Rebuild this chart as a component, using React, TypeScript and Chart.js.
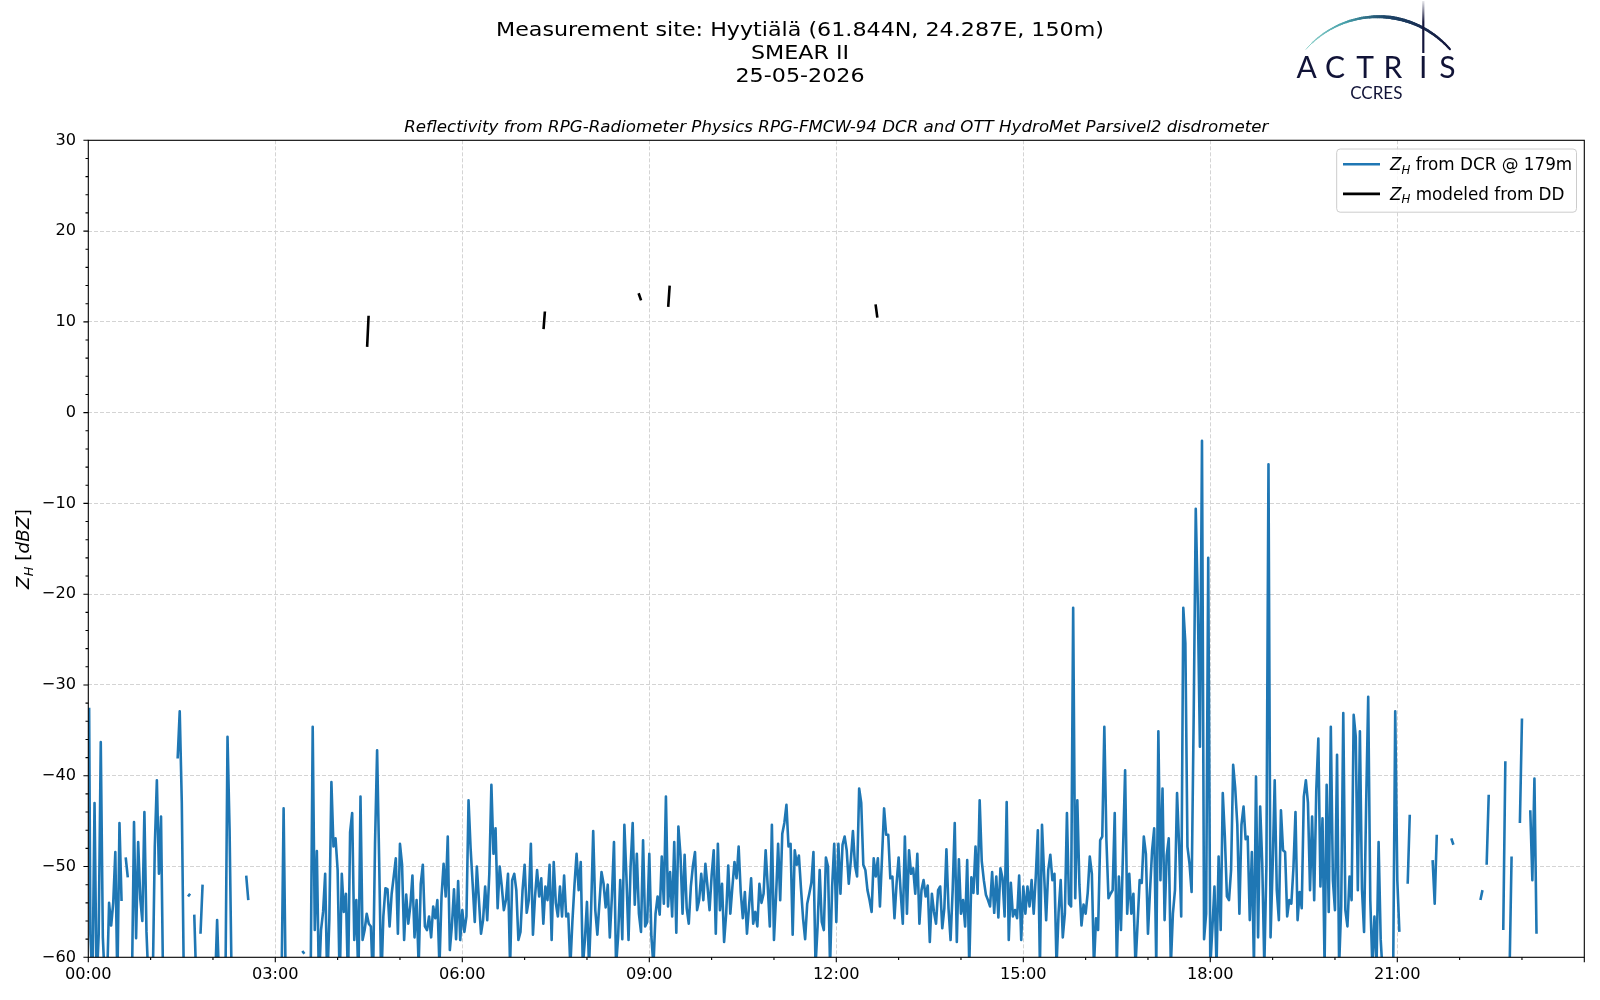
import React, { useEffect, useRef } from 'react';
import { Chart, registerables } from 'chart.js';

Chart.register(...registerables);

// DCR reflectivity at 179 m, one array per 3 hours, one value every 2 minutes (null = no data)
const STEP = 2;
const dcr0000 = [
  -32.5, -57.5, -63, -43, -63, -57.5, -36.3, -57.8, -63, -63,
  -54, -56.5, -54, -48.4, -63, -45.2, -53.8, null, -49, -51.2,
  null, -63, -45.1, -57.9, -47.3, -53.5, -56, -44, -57.2, -63,
  null, -63, -47.8, -40.5, -50.8, -44.5, -63, null, null, null,
  null, null, null, -38.1, -32.9, -43, -63, null, -53.3, -53.0,
  null, -55.3, -63, null, -57.4, -52, null, null, null, null,
  null, -63, -55.9, -63, null, null, -63, -35.7, -46, -63,
  null, null, null, null, null, null, -51, -53.7, null, null,
];
const dcr0300 = [
  null, null, null, -63, -43.6, -63, null, null, null, null,
  null, null, null, -59.3, -59.6, null, null, -63, -34.6, -57,
  -48.3, -63, -57, -55, -50.8, -63, -55.9, -40.7, -47.8, -46.9,
  -50.4, -63, -50.8, -55, -53, -63, -46.2, -44.1, -58.1, -53.7,
  -63, -42.3, -58.1, -57, -55.2, -56.3, -56.6, -63, -47.4, -37.2,
  -49.5, -63, -55.5, -52.4, -52.5, -56.6, -53, -51.1, -49.1, -57.4,
  -47.5, -49.8, -58.1, -53.1, -56.3, -54.3, -51, -57.8, -53.7, -61,
  -51.9, -49.8, -56.6, -57, -55.5, -57.8, -54.4, -55.7, -53.7, -61,
  -53.3, -49.7, -53.3, -46.7, -59.2, -56.5, -52.5, -58, -51.6, -58.1,
];
const dcr0600 = [
  -54.8, -57.2, -55.5, -42.7, -48, -52, -56.1, -50, -53.7, -57.4,
  -55.9, -52.2, -55.9, -50.8, -41, -48.6, -45.8, -54.6, -50, -52.2,
  -54.8, -53.7, -50.8, -61, -51.5, -50.8, -52.6, -58.1, -57.2, -52.6,
  -49.8, -55.1, -53.7, -47.5, -57.5, -53.3, -50.4, -53.3, -51.3, -56.3,
  -52.2, -53.7, -49.8, -58.1, -49.5, -54, -55.5, -52.2, -55.5, -51,
  -55.5, -55.2, -61, -56, -52, -48.6, -52.6, -49.5, -61, -58.1,
  -53.9, -61, -54.7, -46.1, -54.8, -57.5, -54, -50.6, -51.9, -54.5,
  -52, -57.8, -53.3, -47.3, -61, -57.7, -51.5, -58, -45.4, -51.2,
  -58.1, -50, -45.2, -54.2, -48.6, -55.2, -57.2, -47.1, -56.6, -56.1,
];
const dcr0900 = [
  -48.6, -57.7, -61, -55.2, -53.3, -55.3, -48.9, -54.1, -42.3, -54.4,
  -50.6, -55.5, -47.3, -57.3, -45.6, -48.7, -55.2, -48.7, -54.6, -56.3,
  -52.2, -49.9, -48.4, -54.8, -53.7, -50.8, -53.7, -49.7, -52.2, -54.8,
  -51, -48.2, -57.4, -47.5, -54.8, -51.9, -58.3, -55.2, -49.9, -55.2,
  -52.2, -49.5, -51.3, -47.8, -52.8, -55.7, -52.8, -57.4, -54.4, -51.3,
  -56.3, -55, -56.6, -51.9, -54, -53, -48.2, -52.2, -56.6, -45.4,
  -58.1, -53.3, -47.5, -53.7, -46.4, -45.2, -43.2, -47.8, -47.5, -57.5,
  -48.2, -49.8, -48.8, -52.4, -55.7, -58, -54.1, -53, -51.8, -48.4,
  -61, -56.6, -50.4, -56.1, -57, -49, -50, -61, -52.2, -47.5,
];
const dcr1200 = [
  -56.1, -47.5, -53, -47.6, -46.7, -48.2, -51.9, -49.3, -46.1, -49.9,
  -51.1, -41.4, -43, -49.8, -50.4, -52.6, -53.7, -55, -49.1, -51.1,
  -49.1, -54.4, -49, -43.6, -46.5, -46.5, -51.3, -51.1, -55.7, -51.9,
  -49, -52.9, -56.3, -46.7, -55.2, -48.2, -50.8, -50.2, -53, -48.6,
  -56.3, -52.6, -51.5, -53.3, -52.1, -58.3, -53, -55, -56.3, -52.6,
  -52.2, -56.8, -54.6, -48.1, -54.6, -58.1, -52.6, -45.2, -58.3, -49.2,
  -55.2, -53.7, -56.6, -49.3, -61, -51.2, -52.9, -47.8, -53, -42.7,
  -49.4, -51.5, -53.1, -53.7, -54.4, -50.6, -55.1, -51.1, -55.6, -50.2,
  -51.3, -55.5, -42.9, -58.1, -51.8, -55.5, -54.8, -55.7, -51, -58.1,
];
const dcr1500 = [
  -52.2, -55.2, -52.2, -54.4, -51.5, -55.2, -51.1, -46, -61, -45.4,
  -50.8, -55.9, -50.4, -48.7, -51.5, -50.8, -61, -55, -51.5, -57.8,
  -55.2, -44.1, -54.1, -54.4, -21.5, -53.5, -42.7, -52, -56.5, -54.2,
  -55.2, -52.9, -48.9, -50.8, -61, -55.7, -57, -47.1, -46.7, -34.6,
  -47.1, -53.5, -53, -52.6, -44.1, -61, -51.1, -57, -48.2, -39.4,
  -55.2, -50.8, -55.2, -53, -61, -56.3, -51.5, -51.8, -46.7, -48.6,
  -57.4, -52.6, -48.2, -45.8, -61, -35.1, -51.5, -41.4, -55.9, -48.8,
  -46.9, -61, -55.2, -52.6, -41.9, -47.8, -55.5, -21.5, -25.4, -47.8,
  -49.7, -52.8, -33.5, -10.6, -21.2, -36.8, -3.1, -58, -55.2, -16,
];
const dcr1800 = [
  -61, -56.8, -52.2, -61, -48.9, -57, -41.9, -46.7, -53.3, -53.7,
  -50.4, -38.8, -41.4, -45.4, -55.2, -45.4, -43.4, -47, -46.7, -55.9,
  -48.4, -61, -40.1, -57.8, -43.4, -49.7, -61, -50, -5.7, -57.8,
  -50, -40.5, -52.6, -55.9, -43.8, -48.2, -48.4, -55.5, -53.7, -54.1,
  -50.2, -44, -55.9, -52.8, -54.6, -42.3, -40.5, -43, -52.6, -44.5,
  -53.7, -41.6, -35.9, -52.2, -44.7, -61, -41, -55, -34.6, -51.5,
  -54.8, -37.7, -61, -54.4, -33.1, -54.8, -56.6, -51.1, -53.7, -33.3,
  -35.7, -52.6, -35.1, -52.5, -57.2, -43.2, -31.3, -53.7, -61, -55.5,
  -61, -47.3, -58, -62, null, null, null, null, -62, -32.9,
];
const dcr2100 = [
  -51.5, -57.2, null, null, null, -51.9, -44.3, null, null, null,
  null, null, null, null, null, null, null, -49.3, -54.1, -46.5,
  null, null, null, null, null, null, -46.9, -47.6, null, null,
  null, null, null, null, null, null, null, null, null, null,
  -53.7, -52.6, null, -49.8, -42.1, null, null, null, null, null,
  null, -57, -38.4, null, -62, -48.9, null, null, null, -45.2,
  -33.7, null, null, null, -43.8, -51.5, -40.3, -57.4,
];
const dcrBlocks = [dcr0000, dcr0300, dcr0600, dcr0900, dcr1200, dcr1500, dcr1800, dcr2100];

// reflectivity modeled from the disdrometer (minutes since midnight, dBZ)
const ddMinutes = [268.4, 269.8, 300, 438.2, 439.5, 480, 529.7, 532.1, 545, 558.2, 559.6, 600, 757.8, 759.5];
const ddValues = [7.24, 10.67, null, 9.21, 11.14, null, 13.15, 12.36, null, 11.65, 14.0, null, 11.93, 10.47];

const titleLines = ['Measurement site: Hyytiälä (61.844N, 24.287E, 150m)', 'SMEAR II', '25-05-2026'];
const subtitle = 'Reflectivity from RPG-Radiometer Physics RPG-FMCW-94 DCR and OTT HydroMet Parsivel2 disdrometer';
const legendLabels = [' from DCR @ 179m', ' modeled from DD'];

const BLUE = '#1f77b4';
const FONT = '"DejaVu Sans"';

type Run = { t: string; it?: boolean; sub?: boolean };

const runFont = (r: Run, size: number) => `${r.it ? 'italic ' : ''}${r.sub ? size * 0.7 : size}px ${FONT}`;

const runsWidth = (ctx: CanvasRenderingContext2D, runs: Run[], size: number) => {
  let w = 0;
  for (const r of runs) {
    ctx.font = runFont(r, size);
    w += ctx.measureText(r.t).width;
  }
  return w;
};

const drawRuns = (ctx: CanvasRenderingContext2D, runs: Run[], x: number, y: number, size: number) => {
  for (const r of runs) {
    ctx.font = runFont(r, size);
    ctx.fillText(r.t, x, y + (r.sub ? size * 0.22 : 0));
    x += ctx.measureText(r.t).width;
  }
};

// text slightly wider than tall, like the reference figure
const drawStretched = (ctx: CanvasRenderingContext2D, text: string, x: number, y: number, font: string, sx: number) => {
  ctx.save();
  ctx.font = font;
  ctx.textAlign = 'center';
  ctx.translate(x, y);
  ctx.scale(sx, 1);
  ctx.fillText(text, 0, 0);
  ctx.restore();
};

const lerpColor = (a: number[], b: number[], t: number) =>
  `rgb(${a.map((v, i) => Math.round(v + (b[i] - v) * t)).join(',')})`;

const drawLogo = (ctx: CanvasRenderingContext2D) => {
  const cx = 1378;
  const cy = 112.5;
  const r = 95.8;
  const a0 = (-138.7 * Math.PI) / 180;
  const a1 = (-41.3 * Math.PI) / 180;
  const stops = [
    [0, [150, 214, 206]],
    [0.3, [70, 160, 170]],
    [0.55, [30, 70, 105]],
    [1, [20, 22, 60]],
  ] as [number, number[]][];
  const colorAt = (t: number) => {
    for (let k = 1; k < stops.length; k++) {
      if (t <= stops[k][0]) {
        const [t0, c0] = stops[k - 1];
        const [t1, c1] = stops[k];
        return lerpColor(c0, c1, (t - t0) / (t1 - t0));
      }
    }
    return lerpColor(stops[3][1], stops[3][1], 0);
  };
  ctx.save();
  ctx.lineCap = 'round';
  const n = 80;
  for (let k = 0; k < n; k++) {
    const t0 = k / n;
    const t1 = (k + 1) / n;
    const tm = (t0 + t1) / 2;
    const p0 = a0 + (a1 - a0) * t0;
    const p1 = a0 + (a1 - a0) * t1;
    ctx.beginPath();
    ctx.moveTo(cx + r * Math.cos(p0), cy + r * Math.sin(p0));
    ctx.lineTo(cx + r * Math.cos(p1), cy + r * Math.sin(p1));
    ctx.strokeStyle = colorAt(tm);
    ctx.lineWidth = tm < 0.6 ? 0.8 + 2.6 * (tm / 0.6) : 3.4 - 1.4 * ((tm - 0.6) / 0.4);
    ctx.stroke();
  }
  const g = ctx.createLinearGradient(0, 1, 0, 22);
  g.addColorStop(0, 'rgba(20,22,60,0.1)');
  g.addColorStop(1, 'rgba(20,22,60,1)');
  ctx.beginPath();
  ctx.moveTo(1423.3, 1);
  ctx.lineTo(1423.3, 53);
  ctx.strokeStyle = g;
  ctx.lineWidth = 2.2;
  ctx.lineCap = 'butt';
  ctx.stroke();

  ctx.fillStyle = '#111337';
  ctx.textAlign = 'center';
  ctx.font = '30px Lato';
  const letters = ['A', 'C', 'T', 'R', 'I', 'S'];
  const centers = [1306.7, 1335, 1365, 1393, 1423.3, 1447.5];
  letters.forEach((l, i) => ctx.fillText(l, centers[i], 78.3));
  ctx.font = '17px Lato';
  ctx.fillText('CCRES', 1376.3, 99);
  ctx.restore();
};

const decorPlugin = {
  id: 'decor',
  afterDraw(chart: Chart) {
    const { ctx, chartArea: a, scales } = chart;
    const xs = scales.x;
    const ys = scales.y;
    ctx.save();

    // frame
    ctx.strokeStyle = '#000';
    ctx.lineWidth = 1.1;
    ctx.strokeRect(a.left, a.top, a.right - a.left, a.bottom - a.top);

    // major and minor ticks
    ctx.beginPath();
    for (let m = 0; m <= 1440; m += 60) {
      const px = xs.getPixelForValue(m);
      const len = m % 180 === 0 ? 4.9 : 2.8;
      ctx.moveTo(px, a.bottom);
      ctx.lineTo(px, a.bottom + len);
    }
    for (let v = -60; v <= 30; v += 2) {
      const py = ys.getPixelForValue(v);
      const len = v % 10 === 0 ? 4.9 : 2.8;
      ctx.moveTo(a.left, py);
      ctx.lineTo(a.left - len, py);
    }
    ctx.stroke();

    // titles
    ctx.fillStyle = '#000';
    ctx.textBaseline = 'alphabetic';
    const tb = [36, 58.9, 81.8];
    titleLines.forEach((t, i) => drawStretched(ctx, t, 800, tb[i], `20px ${FONT}`, 1.11));
    drawStretched(ctx, subtitle, (a.left + a.right) / 2, 131.7, `italic 15.3px ${FONT}`, 1.09);

    // y-axis label
    const yl: Run[] = [{ t: 'Z', it: true }, { t: 'H', it: true, sub: true }, { t: ' [' }, { t: 'dBZ', it: true }, { t: ']' }];
    ctx.save();
    ctx.translate(29, 549);
    ctx.rotate(-Math.PI / 2);
    ctx.textAlign = 'left';
    drawRuns(ctx, yl, -runsWidth(ctx, yl, 18.5) / 2, 0, 18.5);
    ctx.restore();

    // legend
    const lx = 1336.7;
    const ly = 149;
    const lw = 239.8;
    const lh = 63.2;
    ctx.beginPath();
    ctx.roundRect(lx, ly, lw, lh, 3.5);
    ctx.fillStyle = 'rgba(255,255,255,0.8)';
    ctx.fill();
    ctx.strokeStyle = '#cccccc';
    ctx.lineWidth = 1;
    ctx.stroke();
    const rows = [164.3, 193.9];
    const colors = [BLUE, '#000'];
    rows.forEach((ry, i) => {
      ctx.beginPath();
      ctx.moveTo(1343, ry);
      ctx.lineTo(1380, ry);
      ctx.strokeStyle = colors[i];
      ctx.lineWidth = 2.6;
      ctx.stroke();
      ctx.fillStyle = '#000';
      ctx.textAlign = 'left';
      drawRuns(ctx, [{ t: 'Z', it: true }, { t: 'H', it: true, sub: true }, { t: legendLabels[i] }], 1390, ry + 5.8, 16.8);
    });

    drawLogo(ctx);
    ctx.restore();
  },
};

const pad2 = (n: number) => String(n).padStart(2, '0');

export default function App() {
  const canvas = useRef<HTMLCanvasElement>(null);

  useEffect(() => {
    const ctx = canvas.current;
    if (!ctx) return;

    const dcrPoints = dcrBlocks.flatMap((block, b) =>
      block.map((v, i) => ({ x: b * 180 + i * STEP + (b === 0 && i === 0 ? 0.8 : 0), y: v })),
    );
    const ddPoints = ddMinutes.map((m, i) => ({ x: m, y: ddValues[i] }));

    const chart = new Chart(ctx, {
      type: 'line',
      data: {
        datasets: [
          {
            data: dcrPoints,
            borderColor: BLUE,
            borderWidth: 2.6,
            pointRadius: 0,
            tension: 0,
            spanGaps: false,
            borderJoinStyle: 'round',
            clip: 0,
          },
          {
            data: ddPoints,
            borderColor: '#000',
            borderWidth: 2.6,
            pointRadius: 0,
            tension: 0,
            spanGaps: false,
            clip: 0,
          },
        ],
      },
      options: {
        responsive: false,
        animation: false,
        devicePixelRatio: 1,
        events: [],
        layout: { padding: { left: 0, right: 15.7, top: 140.3, bottom: 0 } },
        plugins: {
          legend: { display: false },
          tooltip: { enabled: false },
        },
        scales: {
          x: {
            type: 'linear',
            min: 0,
            max: 1440,
            afterFit: (s) => {
              s.height = 42.7;
            },
            ticks: {
              stepSize: 180,
              autoSkip: false,
              maxRotation: 0,
              padding: 8,
              color: '#000',
              font: { family: 'DejaVu Sans', size: 16.2 },
              callback: (v) => {
                const m = Number(v);
                return m >= 1440 ? '' : `${pad2(Math.floor(m / 60))}:${pad2(m % 60)}`;
              },
            },
            grid: {
              drawTicks: false,
              lineWidth: 1,
              color: (c) => (c.tick && (c.tick.value === 0 || c.tick.value === 1440) ? 'rgba(0,0,0,0)' : '#d4d4d4'),
            },
            border: { display: false, dash: [4, 2] },
          },
          y: {
            min: -60,
            max: 30,
            afterFit: (s) => {
              s.width = 88.3;
            },
            ticks: {
              stepSize: 10,
              padding: 12.3,
              color: '#000',
              font: { family: 'DejaVu Sans', size: 16.2 },
              callback: (v) => String(v).replace('-', '\u2212'),
            },
            grid: {
              drawTicks: false,
              lineWidth: 1,
              color: (c) => (c.tick && (c.tick.value === 30 || c.tick.value === -60) ? 'rgba(0,0,0,0)' : '#d4d4d4'),
            },
            border: { display: false, dash: [4, 2] },
          },
        },
      },
      plugins: [decorPlugin],
    });
    return () => chart.destroy();
  }, []);

  return (
    <div style={{ position: 'fixed', left: 0, top: 0, width: 1600, height: 1000, background: '#fff' }}>
      <canvas ref={canvas} width={1600} height={1000} style={{ display: 'block' }} />
    </div>
  );
}
